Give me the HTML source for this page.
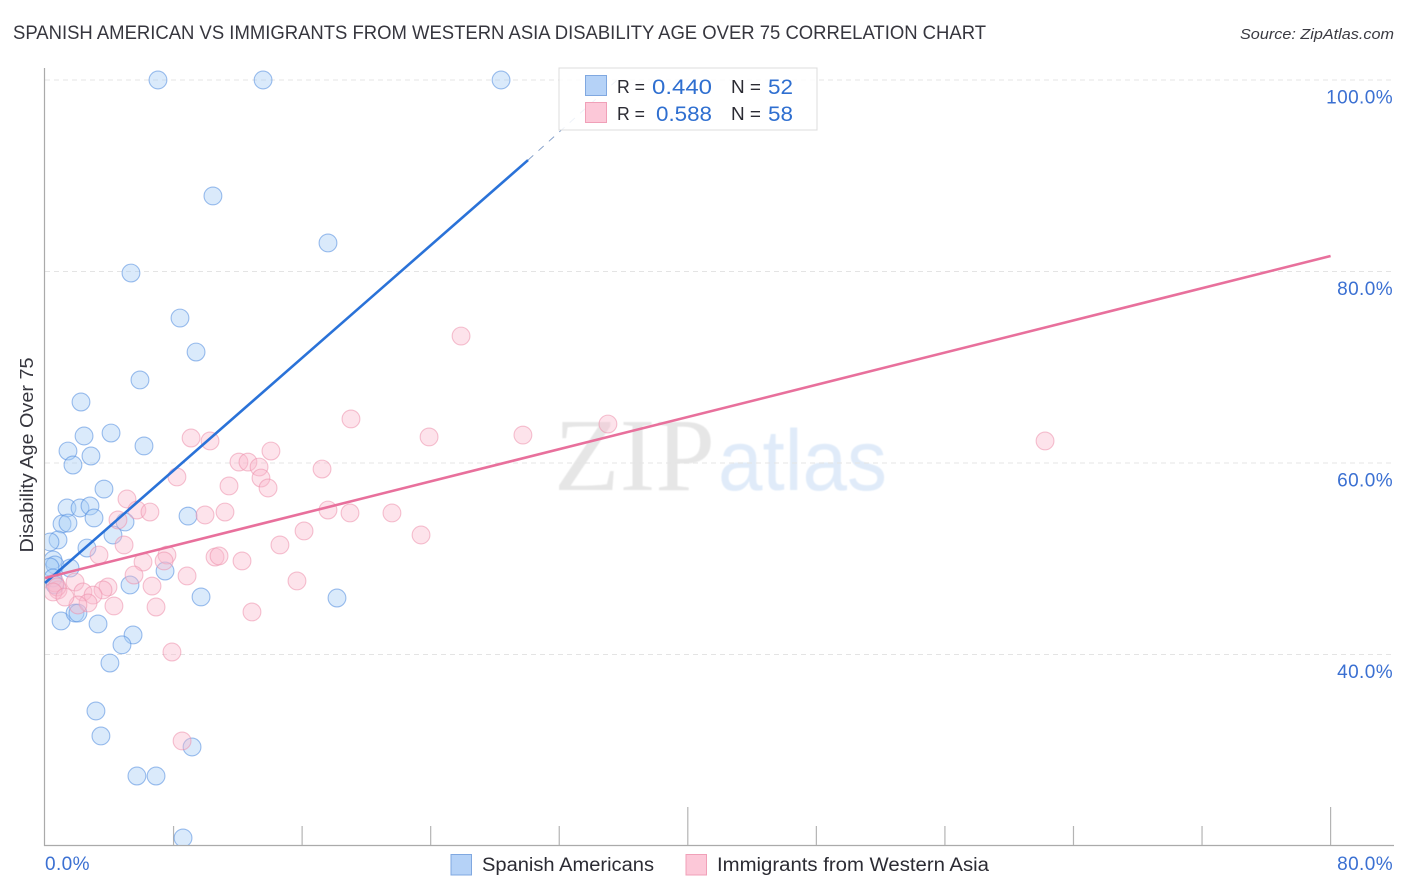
<!DOCTYPE html>
<html lang="en">
<head>
<meta charset="utf-8">
<title>Spanish American vs Immigrants from Western Asia Disability Age Over 75 Correlation Chart</title>
<style>
html,body{margin:0;padding:0;background:#fff;width:1406px;height:892px;overflow:hidden}
svg{display:block;font-family:"Liberation Sans",sans-serif}
</style>
</head>
<body>
<svg id="chart" xmlns="http://www.w3.org/2000/svg" width="1406" height="892" viewBox="0 0 1406 892">
<defs>
<clipPath id="plot-clip"><rect x="45" y="60" width="1350" height="785"/></clipPath>
<filter id="soft"><feGaussianBlur stdDeviation="0.6"/></filter>
</defs>
<text x="13" y="39" font-size="19.5" fill="#36363e" textLength="973" lengthAdjust="spacingAndGlyphs">SPANISH AMERICAN VS IMMIGRANTS FROM WESTERN ASIA DISABILITY AGE OVER 75 CORRELATION CHART</text>
<text x="1394" y="39" font-size="15" font-style="italic" fill="#3a3a42" text-anchor="end" textLength="154" lengthAdjust="spacingAndGlyphs">Source: ZipAtlas.com</text>
<g filter="url(#soft)">
<text x="554" y="490" font-family="'Liberation Serif',serif" font-size="104" fill="#e6e6e6" textLength="161" lengthAdjust="spacingAndGlyphs">ZIP</text>
<text x="718" y="490" font-size="86" fill="#e0ebf9" textLength="169" lengthAdjust="spacingAndGlyphs">atlas</text>
</g>
<g id="grid"></g>
<g id="axes"></g>
<g id="points" clip-path="url(#plot-clip)"></g>
<g id="trends"></g>
<g id="ticklabels"></g>
<text transform="translate(33,455) rotate(-90)" font-size="18" fill="#36363e" text-anchor="middle" textLength="195" lengthAdjust="spacingAndGlyphs">Disability Age Over 75</text>
<g>
<rect x="559" y="68" width="258" height="62" fill="#fff" fill-opacity="0.86" stroke="#dcdcdc" stroke-width="1"/>
<rect x="585.5" y="75.5" width="21" height="20" fill="#b5d2f7" stroke="#80a8e0" stroke-width="1"/>
<rect x="585.5" y="102.5" width="21" height="20" fill="#fcc8d8" stroke="#f0a0b8" stroke-width="1"/>
<text x="617" y="93" font-size="18" fill="#2b2b33" textLength="28" lengthAdjust="spacingAndGlyphs">R =</text>
<text x="652" y="94" font-size="21" fill="#2f6fd0" textLength="60" lengthAdjust="spacingAndGlyphs">0.440</text>
<text x="731" y="93" font-size="18" fill="#2b2b33" textLength="30" lengthAdjust="spacingAndGlyphs">N =</text>
<text x="768" y="94" font-size="21" fill="#2f6fd0" textLength="25" lengthAdjust="spacingAndGlyphs">52</text>
<text x="617" y="120" font-size="18" fill="#2b2b33" textLength="28" lengthAdjust="spacingAndGlyphs">R =</text>
<text x="656" y="121" font-size="21" fill="#2f6fd0" textLength="56" lengthAdjust="spacingAndGlyphs">0.588</text>
<text x="731" y="120" font-size="18" fill="#2b2b33" textLength="30" lengthAdjust="spacingAndGlyphs">N =</text>
<text x="768" y="121" font-size="21" fill="#2f6fd0" textLength="25" lengthAdjust="spacingAndGlyphs">58</text>
</g>
<g>
<rect x="451" y="854.5" width="20.5" height="20.5" fill="#b5d2f7" stroke="#80a8e0" stroke-width="1"/>
<text x="482" y="871" font-size="19" fill="#2b2b33" textLength="172" lengthAdjust="spacingAndGlyphs">Spanish Americans</text>
<rect x="686" y="854.5" width="20.5" height="20.5" fill="#fcc8d8" stroke="#f0a0b8" stroke-width="1"/>
<text x="717" y="871" font-size="19" fill="#2b2b33" textLength="272" lengthAdjust="spacingAndGlyphs">Immigrants from Western Asia</text>
</g>
</svg>
<script>
const yTicks = [100, 80, 60, 40];
const xTicks = [0, 8, 16, 24, 32, 40, 48, 56, 64, 72, 80];
const xMajorTicks = [0, 40, 80];
const xTickLabels = [0, 80];
const blueX = [7.03,13.57,28.38,10.45,17.61,5.35,8.40,9.40,5.91,2.24,4.11,2.43,6.16,1.43,2.86,1.74,3.67,1.37,2.18,2.80,3.05,4.98,1.06,1.43,8.90,4.23,0.81,0.31,2.61,0.50,0.62,0.31,1.56,7.47,0.50,5.29,0.62,9.71,18.17,1.00,1.87,2.05,3.30,5.48,4.79,4.04,3.17,3.48,9.15,5.72,6.91,8.59];
const blueY = [100,100,100,87.89,82.98,79.84,75.14,71.59,68.67,66.37,63.13,62.82,61.78,61.25,60.73,59.79,57.28,55.30,55.30,55.51,54.26,53.84,53.63,53.73,54.46,52.48,51.96,51.75,51.12,49.87,49.35,49.14,49.03,48.72,47.99,47.26,47.26,46.01,45.90,43.50,44.33,44.33,43.19,42.04,41.01,39.11,34.10,31.49,30.34,27.31,27.31,20.84];
const pinkX = [25.89,19.04,35.03,29.74,23.90,62.23,9.09,10.27,14.06,12.07,12.63,13.32,17.24,8.21,13.44,13.88,11.45,5.10,4.54,5.72,6.53,9.96,11.20,17.61,18.98,21.59,16.12,23.40,14.62,4.92,3.36,7.59,7.41,6.10,10.58,10.83,12.26,5.54,8.84,15.68,1.87,6.66,3.92,2.36,3.61,2.99,0.81,6.91,4.29,2.68,2.05,12.88,7.90,8.53,0.62,0.75,0.50,1.24];
const pinkY = [73.26,64.60,64.07,62.92,62.72,62.30,62.61,62.30,61.25,60.10,60.10,59.58,59.37,58.54,58.43,57.39,57.60,56.24,54.05,55.09,54.88,54.57,54.88,55.09,54.78,54.78,52.90,52.48,51.44,51.44,50.39,50.39,49.77,49.66,50.18,50.29,49.77,48.30,48.20,47.68,47.57,47.15,47.05,46.53,46.74,46.21,46.74,44.96,45.07,45.38,45.17,44.44,40.26,30.97,47.47,47.05,46.53,46.00];
const blueTrendX = [0, 30.06];
const blueTrendY = [47.47, 91.64];
const blueDashX = [30.06, 35.6];
const blueDashY = [91.64, 100];
const pinkTrendX = [0, 80];
const pinkTrendY = [47.99, 81.62];

const NS = 'http://www.w3.org/2000/svg';
function xScale(v) { return 45 + v * 16.07; }
function yScale(v) { return 80 + (100 - v) * 9.575; }
function mk(tag, parent, attrs) {
  const el = document.createElementNS(NS, tag);
  for (const k in attrs) el.setAttribute(k, attrs[k]);
  parent.appendChild(el);
  return el;
}
const grid = document.getElementById('grid');
const axes = document.getElementById('axes');
const pts = document.getElementById('points');
const trends = document.getElementById('trends');
const labels = document.getElementById('ticklabels');

yTicks.forEach(function (t) {
  const line = mk('line', grid, {x1: 45, x2: 1393, y1: yScale(t), y2: yScale(t), stroke: '#e4e4e4', 'stroke-width': 1, 'stroke-dasharray': '5 4'});
  
  
  const txt = mk('text', labels, {x: 1393, y: yScale(t) + 23.5, 'font-size': 19, 'letter-spacing': 0.4, fill: '#3b70d2', 'text-anchor': 'end'});
  
  
  txt.textContent = t.toFixed(1) + '%';
});

const yAxis = mk('line', axes, {x1: 44.5, x2: 44.5, y1: 68, y2: 846, stroke: '#aaaaaa', 'stroke-width': 1.2});


const xAxis = mk('line', axes, {x1: 44, x2: 1394, y1: 845.5, y2: 845.5, stroke: '#aaaaaa', 'stroke-width': 1.2});



xTicks.forEach(function (t) {
  if (t === 0) return;
  const top = xMajorTicks.indexOf(t) >= 0 ? 807 : 826;
  const tick = mk('line', axes, {x1: xScale(t), x2: xScale(t), y1: top, y2: 845, stroke: '#b4b4b4', 'stroke-width': 1.2});
  
  
});

xTickLabels.forEach(function (t, i) {
  const txt = mk('text', labels, {x: i === 0 ? xScale(t) : 1393, y: 870, 'font-size': 19, 'letter-spacing': 0.4, fill: '#3b70d2', 'text-anchor': i === 0 ? 'start' : 'end'});
  
  
  txt.textContent = t.toFixed(1) + '%';
});

blueX.forEach(function (x, i) {
  const c = mk('circle', pts, {cx: xScale(x), cy: yScale(blueY[i]), r: 8.9, fill: '#a8ccf6', 'fill-opacity': 0.42, stroke: '#4f8adf', 'stroke-opacity': 0.55, 'stroke-width': 1.1});
  
  
});
pinkX.forEach(function (x, i) {
  const c = mk('circle', pts, {cx: xScale(x), cy: yScale(pinkY[i]), r: 8.9, fill: '#f9b8cc', 'fill-opacity': 0.4, stroke: '#ec8fac', 'stroke-opacity': 0.55, 'stroke-width': 1.1});
  
  
});

const blueLine = mk('line', trends, {x1: xScale(blueTrendX[0]), y1: yScale(blueTrendY[0]), x2: xScale(blueTrendX[1]), y2: yScale(blueTrendY[1]), stroke: '#2a72d8', 'stroke-width': 2.6});


const blueDash = mk('line', trends, {x1: xScale(blueDashX[0]), y1: yScale(blueDashY[0]), x2: xScale(blueDashX[1]), y2: yScale(blueDashY[1]), stroke: '#7f9cc8', 'stroke-width': 0.9, 'stroke-dasharray': '7 7'});


const pinkLine = mk('line', trends, {x1: xScale(pinkTrendX[0]), y1: yScale(pinkTrendY[0]), x2: xScale(pinkTrendX[1]), y2: yScale(pinkTrendY[1]), stroke: '#e8709c', 'stroke-width': 2.6});


</script>
</body>
</html>
